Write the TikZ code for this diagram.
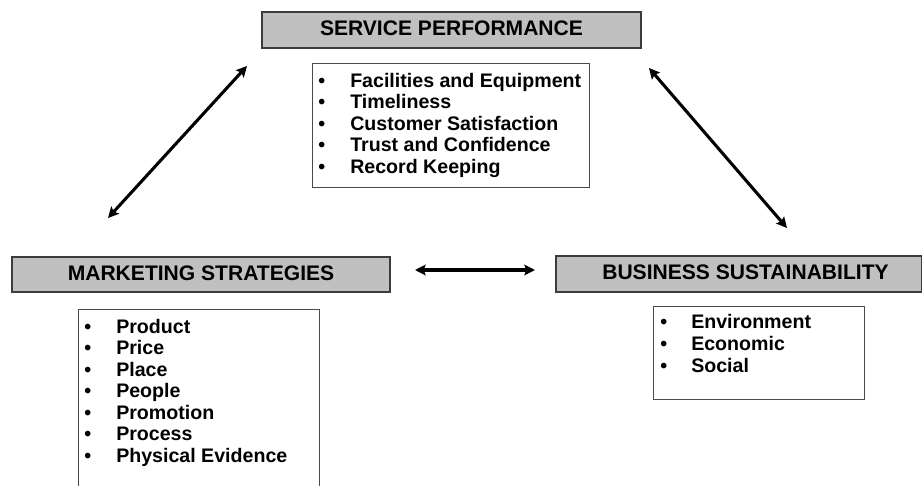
\documentclass[tikz,border=0pt]{standalone}
\usepackage{fontspec}
\setmainfont{Liberation Sans}
\usetikzlibrary{arrows.meta}
\definecolor{hdrfill}{HTML}{C0C0C0}
\definecolor{hdrline}{HTML}{3C3C3C}
\definecolor{boxline}{HTML}{4A4A4A}
\begin{document}
\begin{tikzpicture}[x=0.75pt,y=-0.75pt,
  header/.style={draw=hdrline, fill=hdrfill, line width=1.1pt, inner sep=0pt,
    text height=11.4pt, text depth=3pt,
    font=\fontsize{15.8}{18}\selectfont\bfseries},
  listbox/.style={draw=boxline, line width=0.75pt, inner sep=0pt},
  itemtext/.style={anchor=base west, inner sep=0pt,
    font=\fontsize{14.7}{17}\selectfont\bfseries},
  link/.style={line width=2.3pt, {Stealth[length=8pt,width=8pt,inset=1.5pt]}-{Stealth[length=8pt,width=8pt,inset=1.5pt]}}
]
\clip (0,0) rectangle (922,486);
\fill[white] (0,0) rectangle (922,486);

% headers
\node[header, minimum width=379*0.75pt, minimum height=36*0.75pt] (sp) at (451.5,30) {SERVICE PERFORMANCE};
\node[header, minimum width=378*0.75pt, minimum height=35*0.75pt] (ms) at (201,274.5) {MARKETING STRATEGIES};
\node[header, minimum width=366*0.75pt, minimum height=36*0.75pt] (bs) at (739,274) {\hspace*{9.75pt}BUSINESS SUSTAINABILITY};

% list boxes
\node[listbox, minimum width=277*0.75pt, minimum height=124*0.75pt] (splist) at (450.5,125) {};
\node[listbox, minimum width=241*0.75pt, minimum height=190*0.75pt] (mslist) at (198.5,404) {};
\node[listbox, minimum width=211*0.75pt, minimum height=93*0.75pt] (bslist) at (758.5,352.5) {};

% service performance items
\foreach \t [count=\i] in {Facilities and Equipment, Timeliness, Customer Satisfaction, Trust and Confidence, Record Keeping} {
  \node[itemtext] (spb\i) at (318, 65.5+\i*21.6) {\textbullet};
  \node[itemtext] (spt\i) at (350, 65.5+\i*21.6) {\t};
}
% marketing items
\foreach \t [count=\i] in {Product, Price, Place, People, Promotion, Process, Physical Evidence} {
  \node[itemtext] (msb\i) at (84, 311.5+\i*21.5) {\textbullet};
  \node[itemtext] (mst\i) at (116, 311.5+\i*21.5) {\t};
}
% sustainability items
\foreach \t [count=\i] in {Environment, Economic, Social} {
  \node[itemtext] (bsb\i) at (660, 306+\i*22) {\textbullet};
  \node[itemtext] (bst\i) at (691, 306+\i*22) {\t};
}

% connector ends
\coordinate (l1) at (108,218);
\coordinate (l2) at (247,66);
\coordinate (r1) at (649,68);
\coordinate (r2) at (787,228);
\coordinate (h1) at (415,270);
\coordinate (h2) at (535,270);
\draw[link] (l1) -- (l2);
\draw[link] (r1) -- (r2);
\draw[link] (h1) -- (h2);
\end{tikzpicture}
\end{document}
